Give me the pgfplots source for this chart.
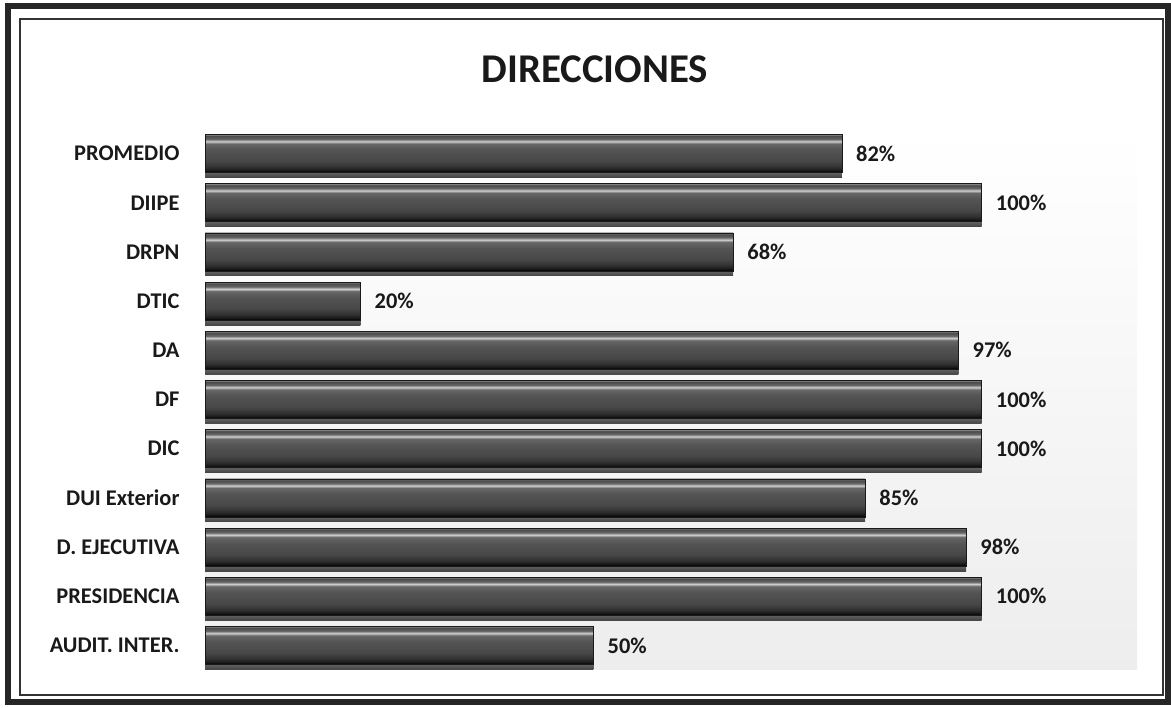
\documentclass[border=0pt]{standalone}
\usepackage{pgfplots}
\pgfplotsset{compat=1.18}
\usepackage{fontspec}
\setmainfont{Carlito}
\usetikzlibrary{shadows}
\definecolor{b0}{HTML}{000000}
\definecolor{b1}{HTML}{1A1A1A}
\definecolor{b2}{HTML}{303030}
\definecolor{b3}{HTML}{474747}
\definecolor{b4}{HTML}{545454}
\definecolor{b5}{HTML}{676767}
\definecolor{b6}{HTML}{CFCFCF}
\definecolor{b7}{HTML}{666666}
\definecolor{b8}{HTML}{4A4A4A}
\definecolor{b9}{HTML}{8E8E8E}
\pgfdeclareverticalshading{bevel}{100bp}{color(0bp)=(b0); color(25bp)=(b0); color(28bp)=(b1); color(32bp)=(b2); color(40bp)=(b3); color(55bp)=(b4); color(63bp)=(b5); color(66bp)=(b6); color(69bp)=(b7); color(73bp)=(b8); color(75bp)=(b9); color(100bp)=(b9)}
\begin{document}
\begin{tikzpicture}[x=1bp,y=1bp]
\path (0,0) rectangle (1171,708);
% frame
\draw[line width=6bp, black!85] (8,6) rectangle (1168,702);
\draw[line width=1.2bp, black!80] (20,13) rectangle (1163,689);
\node[anchor=base, font=\fontsize{41}{45}\selectfont\bfseries, text=black!90] at (595,625) {DIRECCIONES};
\begin{axis}[
  at={(205bp,38bp)}, anchor=south west,
  scale only axis, width=932bp, height=541bp,
  xmin=0, xmax=120, ymin=-0.5, ymax=10.5,
  axis line style={draw=none},
  axis background/.style={shade, top color=white, bottom color=gray!14},
  xtick=\empty,
  ytick={0,...,10},
  yticklabels={AUDIT. INTER., PRESIDENCIA, D. EJECUTIVA, DUI Exterior, DIC, DF, DA, DTIC, DRPN, DIIPE, PROMEDIO},
  major tick length=0pt,
  yticklabel style={font=\fontsize{22.5}{26}\selectfont\bfseries, text=black!90, anchor=east, xshift=-22bp},
  xbar, bar width=38bp, bar shift=0pt,
  nodes near coords={\pgfmathprintnumber[assume math mode=true]{\pgfplotspointmeta}\%},
  point meta=x,
  nodes near coords style={font=\fontsize{22.5}{26}\selectfont\bfseries, text=black!90, anchor=west, inner sep=0pt, xshift=14bp},
  clip=false,
  every axis plot/.style={line width=0.6bp, shade, shading=bevel,
    drop shadow={shadow xshift=0bp, shadow yshift=-5bp, fill=gray!40, draw=none, opacity=0.7}},
  every axis plot post/.append style={draw=black!90},
]
\addplot coordinates {(50,0)};
\addplot coordinates {(100,1)};
\addplot coordinates {(98,2)};
\addplot coordinates {(85,3)};
\addplot coordinates {(100,4)};
\addplot coordinates {(100,5)};
\addplot coordinates {(97,6)};
\addplot coordinates {(20,7)};
\addplot coordinates {(68,8)};
\addplot coordinates {(100,9)};
\addplot coordinates {(82,10)};
\end{axis}
\end{tikzpicture}
\end{document}
